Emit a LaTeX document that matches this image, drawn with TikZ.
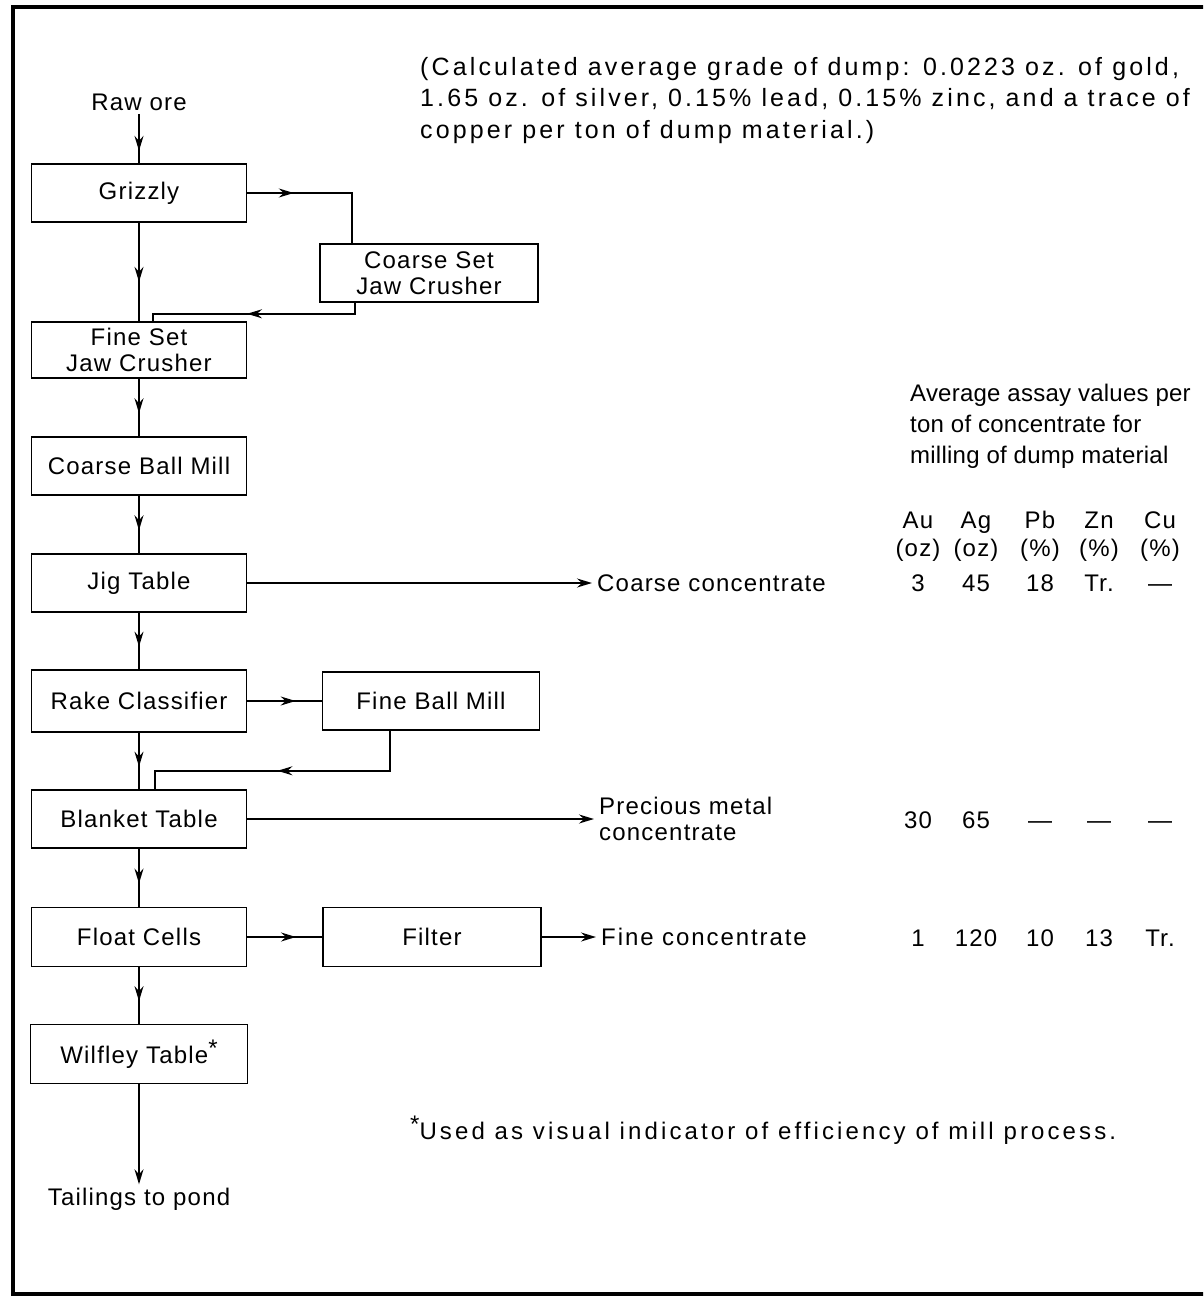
\documentclass[tikz,border=0pt]{standalone}
\usepackage{fontspec}
\setmainfont{Liberation Sans}[LetterSpace=5]
\usetikzlibrary{arrows.meta,decorations.markings}
\newcommand{\starmark}{\raisebox{7pt}{*}}

\begin{document}
\begin{tikzpicture}[x=1pt, y=-1pt, font=\fontsize{24}{26}\selectfont,
  box/.style={draw, line width=1.6pt, minimum width=215pt, minimum height=58pt, inner sep=0pt, align=center},
  lbl/.style={inner xsep=5pt, inner ysep=0pt, align=left},
  cell/.style={inner sep=0pt, text height=17pt, text depth=5pt},
  flow/.style={line width=1.6pt},
  tip/.style={-{Stealth[length=15pt,width=9pt,inset=5pt]}},
  midarrow/.style={postaction={decorate}, decoration={markings, mark=at position #1 with {\arrow{Stealth[length=15pt,width=9pt,inset=5pt]}}}},
  midarrow/.default=0.6]
  \clip (0,0) rectangle (1203,1297);
  \draw[line width=3.5pt] (13,7) rectangle (1240,1294);

  % main column
  \node (raw) at (139,102) {Raw ore};
  \node[box] (grizzly) at (139,193) {Grizzly};
  \node[box, minimum width=218pt] (coarseset) at (429,273) {Coarse Set\\Jaw Crusher};
  \node[box, minimum height=56pt] (fineset) at (139,350) {Fine Set\\Jaw Crusher};
  \node[box] (cbm) at (139,466) {Coarse Ball Mill};
  \node[box] (jig) at (139,583) {Jig Table};
  \node[box, minimum height=62pt] (rake) at (139,701) {Rake Classifier};
  \node[box, minimum width=217pt] (fbm) at (431,701) {Fine Ball Mill};
  \node[box] (blanket) at (139,819) {Blanket Table};
  \node[box, minimum height=59pt] (float) at (139,937) {Float Cells};
  \node[box, minimum width=218pt, minimum height=59pt] (filter) at (432,937) {Filter};
  \node[box, minimum width=217pt, minimum height=59pt] (wilfley) at (139,1054) {Wilfley Table\starmark};
  \node (tailings) at (139,1199) {Tailings to pond};

  % products
  \node[lbl, anchor=west] (coarsecon) at (592,583) {Coarse concentrate};
  \node[lbl, anchor=west] (preccon) at (594,819) {Precious metal\\concentrate};
  \node[lbl, anchor=west, font=\fontsize{24}{26}\selectfont\addfontfeatures{LetterSpace=8}] (finecon) at (596,937) {Fine concentrate};

  % flows
  \draw[flow, midarrow=0.75] (raw) -- (grizzly);
  \draw[flow, midarrow=0.3] (grizzly.east) -| ([xshift=-77pt]coarseset.north);
  \draw[flow, midarrow] (grizzly) -- (fineset);
  \draw[flow, midarrow=0.54] ([xshift=-74pt]coarseset.south) -- ++(0,11) -| ([xshift=14pt]fineset.north);
  \draw[flow, midarrow] (fineset) -- (cbm);
  \draw[flow, midarrow] (cbm) -- (jig);
  \draw[flow, tip] (jig) -- (coarsecon);
  \draw[flow, midarrow] (jig) -- (rake);
  \draw[flow, midarrow=0.65] (rake) -- (fbm);
  \draw[flow, midarrow] (rake) -- (blanket);
  \draw[flow, midarrow=0.52] ([xshift=-41pt]fbm.south) -- ++(0,40) -| ([xshift=16pt]blanket.north);
  \draw[flow, tip] (blanket) -- (preccon);
  \draw[flow, midarrow] (blanket) -- (float);
  \draw[flow, midarrow=0.65] (float) -- (filter);
  \draw[flow, tip] (filter) -- (finecon);
  \draw[flow, midarrow] (float) -- (wilfley);
  \draw[flow, tip] (wilfley) -- (tailings);

  % notes
  \node[lbl, anchor=north west, font=\fontsize{25}{31.5}\selectfont\addfontfeatures{LetterSpace=12.5}] (grade) at (415,57) {(Calculated average grade of dump: 0.0223 oz. of gold,\\1.65 oz. of silver, 0.15\% lead, 0.15\% zinc, and a trace of\\copper per ton of dump material.)};
  \node[lbl, anchor=west, font=\fontsize{24}{31}\selectfont\addfontfeatures{LetterSpace=1}] (assay) at (905,426) {Average assay values per\\ton of concentrate for\\milling of dump material};
  \node[lbl, anchor=west, font=\fontsize{24}{26}\selectfont\addfontfeatures{LetterSpace=13}] (note) at (405,1130) {\starmark Used as visual indicator of efficiency of mill process.};

  % assay table
  \foreach \x/\el/\un/\a/\b/\c [count=\i] in {918/Au/(oz)/3/30/1, 976/Ag/(oz)/45/65/120, 1040/Pb/(\%)/18/—/10, 1099/Zn/(\%)/Tr./—/13, 1160/Cu/(\%)/—/—/Tr.} {
    \node[cell] (el\i) at (\x,522) {\el};
    \node[cell] (un\i) at (\x,550) {\un};
    \node[cell] (cv\i) at (\x,585) {\a};
    \node[cell] (pv\i) at (\x,822) {\b};
    \node[cell] (fv\i) at (\x,940) {\c};
  }
\end{tikzpicture}
\end{document}
